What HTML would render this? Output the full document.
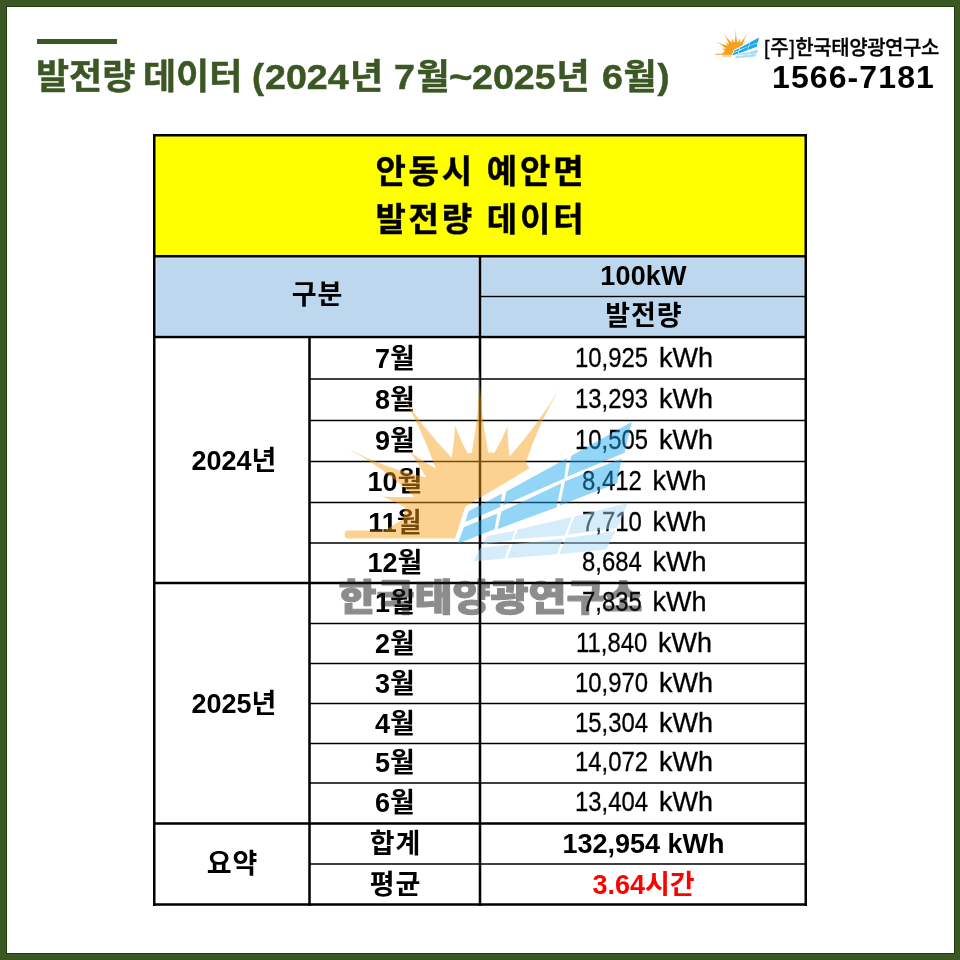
<!DOCTYPE html><html lang="ko"><head><meta charset="utf-8"><title>발전량 데이터</title><style>
*{margin:0;padding:0;box-sizing:border-box}
html,body{width:960px;height:960px;overflow:hidden;background:#fff}
body{position:relative;font-family:"Liberation Sans","Noto Sans CJK KR",sans-serif;color:#000}
.frame{position:absolute;left:0;top:0;width:960px;height:960px;border:solid #3b5724;border-width:6px 5px 6px 6px}
.frame:after{content:"";position:absolute;left:0;top:0;right:0;bottom:0;border:1px solid #1f3f0a}
.bar{position:absolute;left:37px;top:39px;width:80px;height:5px;background:#3b5724}
.title{position:absolute;left:36px;top:55px;width:660px;height:44px;font-size:36px;font-weight:700;color:#3b5724;white-space:nowrap;line-height:44px;-webkit-text-stroke:.5px #3b5724;transform:scaleY(.968);transform-origin:0 38px}
.title span{position:absolute;top:0}
.title .d{transform:scaleX(1.045);transform-origin:0 50%}
.brand{position:absolute;left:764px;top:34px;font-size:20px;font-weight:500;white-space:nowrap;line-height:28px;letter-spacing:-0.45px;-webkit-text-stroke:.3px #000}
.brand i{font-style:normal;letter-spacing:.6px}
.phone{position:absolute;left:772px;top:57px;font-size:32px;font-weight:700;white-space:nowrap;line-height:40px;letter-spacing:1.1px}
.fill{position:absolute}
.ln{position:absolute;background:#000}
.t{position:absolute;text-align:center;white-space:nowrap}
.b{font-weight:700}
.h1{font-size:33px;line-height:48px;font-weight:700;letter-spacing:2.8px;padding-left:2.8px;-webkit-text-stroke:.4px #000}
.lab{font-size:27px;font-weight:700;line-height:40px}
.k{letter-spacing:.9px;padding-left:.9px}
.lab i{font-style:normal;letter-spacing:1px}
.val{font-size:27px;font-weight:400;line-height:40px;word-spacing:3.5px;padding-left:1px;-webkit-text-stroke:.3px #000}
.val .n{display:inline-block;transform:scaleX(.885);transform-origin:0 50%}
.red{color:#ff0000}
.wm{position:absolute;left:0;top:0;width:960px;height:960px;pointer-events:none}
</style></head><body>
<div class="frame"></div><div class="bar"></div>
<div class="title"><span style="left:0">발전량</span> <span style="left:107px">데이터</span> <span style="left:216px">(</span><span class="d" style="left:229px">2024</span><span style="left:314px">년</span> <span class="d" style="left:358px">7</span><span style="left:380.5px">월</span><span style="left:413px;transform:scaleX(1.12);transform-origin:0 50%">~</span><span class="d" style="left:436px">2025</span><span style="left:520.5px">년</span> <span class="d" style="left:565.5px">6</span><span style="left:587.5px">월</span><span style="left:621.5px">)</span></div>
<div class="brand"><i>[주]</i>한국태양광연구소</div>
<div class="phone">1566-7181</div>
<div class="fill" style="left:154px;top:135px;width:651px;height:122px;background:#ffff00"></div>
<div class="fill" style="left:154px;top:257px;width:651px;height:80px;background:#bdd7ee"></div>
<div class="t h1" style="left:154px;top:148px;width:651px">안동시 예안면<br>발전량 데이터</div>
<div class="t lab k" style="left:154px;top:275px;width:326px">구분</div>
<div class="t lab" style="left:481px;top:256px;width:325px;letter-spacing:.2px">100kW</div>
<div class="t lab k" style="left:481px;top:296px;width:325px">발전량</div>
<div class="t lab" style="left:310px;top:338.5px;width:170px">7월</div>
<div class="t val" style="left:481px;top:337.6px;width:325px"><span class="n" style="margin-right:-9.50px">10,925</span> <span class="u">kWh</span></div>
<div class="t lab" style="left:310px;top:379.8px;width:170px">8월</div>
<div class="t val" style="left:481px;top:378.9px;width:325px"><span class="n" style="margin-right:-9.50px">13,293</span> <span class="u">kWh</span></div>
<div class="t lab" style="left:310px;top:421.0px;width:170px">9월</div>
<div class="t val" style="left:481px;top:420.1px;width:325px"><span class="n" style="margin-right:-9.50px">10,505</span> <span class="u">kWh</span></div>
<div class="t lab" style="left:310px;top:462.0px;width:170px">10월</div>
<div class="t val" style="left:481px;top:461.1px;width:325px"><span class="n" style="margin-right:-7.77px">8,412</span> <span class="u">kWh</span></div>
<div class="t lab" style="left:310px;top:502.8px;width:170px">11월</div>
<div class="t val" style="left:481px;top:501.9px;width:325px"><span class="n" style="margin-right:-7.77px">7,710</span> <span class="u">kWh</span></div>
<div class="t lab" style="left:310px;top:543.0px;width:170px">12월</div>
<div class="t val" style="left:481px;top:542.1px;width:325px"><span class="n" style="margin-right:-7.77px">8,684</span> <span class="u">kWh</span></div>
<div class="t lab" style="left:310px;top:583.2px;width:170px">1월</div>
<div class="t val" style="left:481px;top:582.4px;width:325px"><span class="n" style="margin-right:-7.77px">7,835</span> <span class="u">kWh</span></div>
<div class="t lab" style="left:310px;top:623.5px;width:170px">2월</div>
<div class="t val" style="left:481px;top:622.6px;width:325px"><span class="n" style="margin-right:-9.50px">11,840</span> <span class="u">kWh</span></div>
<div class="t lab" style="left:310px;top:663.5px;width:170px">3월</div>
<div class="t val" style="left:481px;top:662.6px;width:325px"><span class="n" style="margin-right:-9.50px">10,970</span> <span class="u">kWh</span></div>
<div class="t lab" style="left:310px;top:703.5px;width:170px">4월</div>
<div class="t val" style="left:481px;top:702.6px;width:325px"><span class="n" style="margin-right:-9.50px">15,304</span> <span class="u">kWh</span></div>
<div class="t lab" style="left:310px;top:743.2px;width:170px">5월</div>
<div class="t val" style="left:481px;top:742.4px;width:325px"><span class="n" style="margin-right:-9.50px">14,072</span> <span class="u">kWh</span></div>
<div class="t lab" style="left:310px;top:783.2px;width:170px">6월</div>
<div class="t val" style="left:481px;top:782.4px;width:325px"><span class="n" style="margin-right:-9.50px">13,404</span> <span class="u">kWh</span></div>
<div class="t lab" style="left:156px;top:440.9px;width:156px">2024년</div>
<div class="t lab" style="left:156px;top:683.6px;width:156px">2025년</div>
<div class="t lab k" style="left:154px;top:844.2px;width:156px">요약</div>
<div class="t lab k" style="left:310px;top:823.8px;width:170px">합계</div>
<div class="t lab k" style="left:310px;top:864.5px;width:170px">평균</div>
<div class="t lab" style="left:481px;top:823.8px;width:325px">132,954 kWh</div>
<div class="t lab red" style="left:481px;top:864.5px;width:325px">3.64시간</div>
<svg class="wm" width="960" height="960" viewBox="0 0 960 960" fill="#000"><g fill="none" stroke="#d9eaf9" stroke-width="1"><rect x="156" y="258" width="322.5" height="77.5"/><rect x="481.75" y="258" width="322.5" height="37.5"/><rect x="481.75" y="297.75" width="322.5" height="37.75"/></g><rect x="153" y="134.00" width="654" height="2.5"/><rect x="153" y="255.00" width="654" height="2.5"/><rect x="153" y="335.75" width="654" height="2.5"/><rect x="153" y="903.25" width="654" height="2.5"/><rect x="480" y="295.75" width="327" height="1.5"/><rect x="310" y="378.25" width="497" height="1.5"/><rect x="310" y="419.75" width="497" height="1.5"/><rect x="310" y="460.75" width="497" height="1.5"/><rect x="310" y="501.75" width="497" height="1.5"/><rect x="310" y="542.25" width="497" height="1.5"/><rect x="153" y="581.75" width="654" height="2.5"/><rect x="310" y="622.75" width="497" height="1.5"/><rect x="310" y="662.75" width="497" height="1.5"/><rect x="310" y="702.75" width="497" height="1.5"/><rect x="310" y="742.75" width="497" height="1.5"/><rect x="310" y="782.25" width="497" height="1.5"/><rect x="153" y="822.25" width="654" height="2.5"/><rect x="310" y="863.25" width="497" height="1.5"/><rect x="153.00" y="134" width="2.5" height="772"/><rect x="804.50" y="134" width="2.5" height="772"/><rect x="308.25" y="337" width="2.5" height="569"/><rect x="478.75" y="256" width="2.5" height="650"/></svg>
<svg class="wm" width="960" height="960" viewBox="0 0 960 960"><g opacity=".47"><path fill="#f9a11b" d="M348.5 538.6 A4 4 0 0 1 348.5 530.6 L384.6 530.6 L403.5 519 L405 507.3 Q394.4 501.1 382.4 496.4 Q397.7 497.4 414.5 496.8 L414.5 496.8 Q384.2 467.9 348.1 448.7 Q384.2 467.9 426.1 477.4 L426.1 477.4 Q418.8 464 410.1 451.9 Q422.1 460.9 435.6 468.6 L435.6 468.6 Q421.3 426.6 399 390 Q421.3 426.6 451.7 457.7 L451.7 457.7 Q454.3 441.5 455 425.8 Q460.3 439.8 467.5 453.3 L471.7 453 Q479.8 409.4 479.5 366 Q479.8 409.4 488.3 452.6 L494.6 452.6 Q502 439.7 507.5 426.2 Q507.6 441.1 509.5 456.5 L509.5 456.5 Q538.6 423.9 559.6 388.3 Q538.6 424 525.8 462.7 L529.6 468.3 L465.3 506.5 L455 538.6 Z"/><g fill="#1ba8ef"><polygon points="468.5,511.2 502.1,493.6 500,507.3 465.4,521.9"/><polygon points="506.3,491.5 567.1,458.3 564.3,478.4 503.4,505.2"/><polygon points="571.3,455.8 631.7,421.9 624.6,452.8 567.3,476.8"/><polygon points="464,527.1 497.3,513.5 494.6,529.2 457.7,543.8"/><polygon points="501.5,511.5 561.3,483.2 556.7,507.3 497.6,529.2"/><polygon points="565,481.3 621.6,458.4 617.1,483.3 559.8,505.6"/></g><g fill="#a8daf6"><polygon points="487.7,536.1 515.2,530.4 511.6,540.2 482.4,544.6"/><polygon points="517.8,529.5 571.8,517.1 564.7,535.4 513.4,539.3"/><polygon points="574.5,516.2 627.6,503 617.9,527.8 567.4,534.8"/><polygon points="480.6,547.8 509.8,544.6 504.5,558.4 473.5,561.4"/><polygon points="512.5,544.2 563,538.4 556.8,554.3 507.2,558.4"/><polygon points="565.6,538 615.2,531.3 606.4,549.5 559.4,554.3"/></g></g><text x="338.5" y="611" textLength="304" lengthAdjust="spacingAndGlyphs" font-family="Liberation Sans, Noto Sans CJK KR, sans-serif" font-weight="900" font-size="37" fill="#1c1c1c" stroke="#1c1c1c" stroke-width="1.2" stroke-linejoin="round" opacity=".5">한국태양광연구소</text><rect x="722" y="54.8" width="9.5" height="2.2" fill="#fbd49c"/><g transform="translate(715.2 29.3) scale(0.1525 0.1478) translate(-344.5 -366)"><path fill="#f9a11b" d="M348.5 538.6 A4 4 0 0 1 348.5 530.6 L384.6 530.6 L403.5 519 L405 507.3 Q394.4 501.1 382.4 496.4 Q397.7 497.4 414.5 496.8 L414.5 496.8 Q384.2 467.9 348.1 448.7 Q384.2 467.9 426.1 477.4 L426.1 477.4 Q418.8 464 410.1 451.9 Q422.1 460.9 435.6 468.6 L435.6 468.6 Q421.3 426.6 399 390 Q421.3 426.6 451.7 457.7 L451.7 457.7 Q454.3 441.5 455 425.8 Q460.3 439.8 467.5 453.3 L471.7 453 Q479.8 409.4 479.5 366 Q479.8 409.4 488.3 452.6 L494.6 452.6 Q502 439.7 507.5 426.2 Q507.6 441.1 509.5 456.5 L509.5 456.5 Q538.6 423.9 559.6 388.3 Q538.6 424 525.8 462.7 L529.6 468.3 L465.3 506.5 L455 538.6 Z"/><g fill="#1ba8ef"><polygon points="468.5,511.2 502.1,493.6 500,507.3 465.4,521.9"/><polygon points="506.3,491.5 567.1,458.3 564.3,478.4 503.4,505.2"/><polygon points="571.3,455.8 631.7,421.9 624.6,452.8 567.3,476.8"/><polygon points="464,527.1 497.3,513.5 494.6,529.2 457.7,543.8"/><polygon points="501.5,511.5 561.3,483.2 556.7,507.3 497.6,529.2"/><polygon points="565,481.3 621.6,458.4 617.1,483.3 559.8,505.6"/></g><g fill="#a8daf6"><polygon points="487.7,536.1 515.2,530.4 511.6,540.2 482.4,544.6"/><polygon points="517.8,529.5 571.8,517.1 564.7,535.4 513.4,539.3"/><polygon points="574.5,516.2 627.6,503 617.9,527.8 567.4,534.8"/><polygon points="480.6,547.8 509.8,544.6 504.5,558.4 473.5,561.4"/><polygon points="512.5,544.2 563,538.4 556.8,554.3 507.2,558.4"/><polygon points="565.6,538 615.2,531.3 606.4,549.5 559.4,554.3"/></g></g></svg>
</body></html>
